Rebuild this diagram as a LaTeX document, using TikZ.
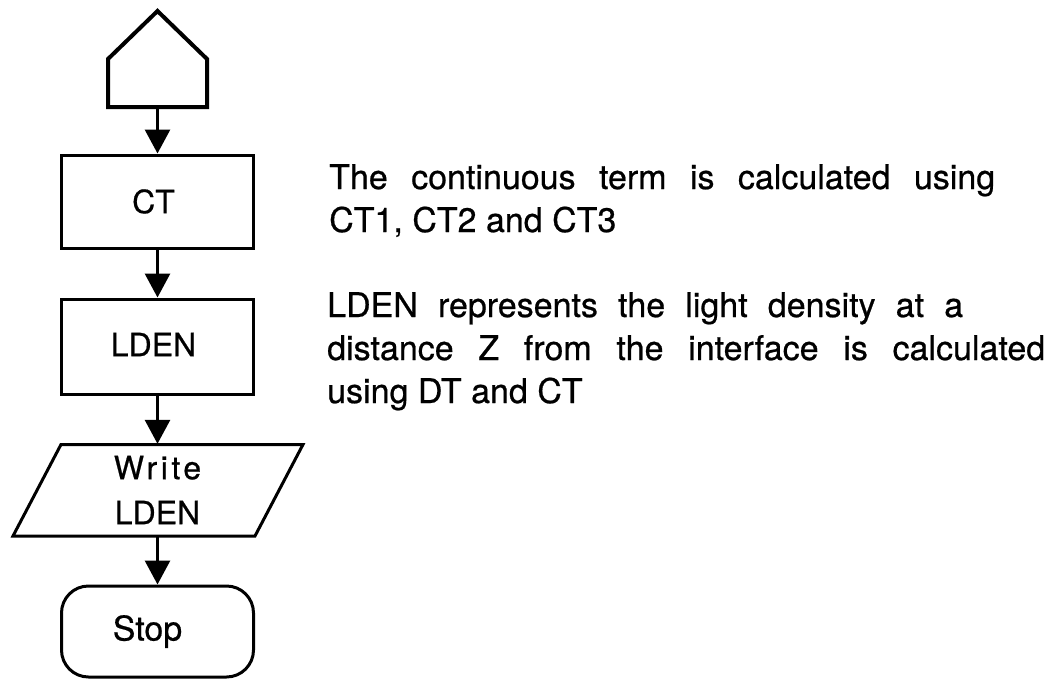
\documentclass[tikz,border=0pt]{standalone}
\usepackage{fontspec}
\setmainfont{TeX Gyre Heros}[FakeBold=0.6]
\usetikzlibrary{arrows.meta}
\newcommand\lblfont{\fontsize{32}{45}\selectfont}
\newcommand\txtfont{\fontsize{34}{43}\selectfont}
\begin{document}
\begin{tikzpicture}[x=1pt,y=-1pt,
  box/.style={draw,line width=3pt,minimum width=192pt,inner sep=0pt,font=\lblfont},
  flow/.style={line width=3pt,-{Triangle[length=24pt,width=25pt]}},
  para/.style={anchor=base west,inner sep=0pt,font=\txtfont}]
\useasboundingbox (0,0) rectangle (1058,681);

% start symbol (pentagon)
\draw[line width=4pt,line join=miter] (108,107) -- (108,59) -- (157.5,11) -- (207,59) -- (207,107) -- cycle;
\coordinate (start) at (157.5,107);

% process boxes
\node[box,minimum height=93pt,label={[font=\lblfont,xshift=-4pt]center:CT}] (ct) at (157.5,201.5) {};
\node[box,minimum height=95pt,label={[font=\lblfont,xshift=-4pt,yshift=2pt]center:LDEN}] (lden) at (157.5,346.5) {};

% output (parallelogram)
\node[minimum width=192pt,minimum height=92pt,align=center,font=\lblfont,inner sep=0pt] (write) at (157.5,490)
  {{\addfontfeature{LetterSpace=11}Write}\\LDEN};
\draw[line width=3pt,line join=miter] (13,536) -- (61,444.5) -- (303,444.5) -- (255,536) -- cycle;

% terminal
\node[box,rounded corners=27pt,minimum height=91pt,label={[font=\fontsize{34}{40}\selectfont,xshift=-10pt]center:Stop}] (stop) at (157.5,631.5) {};

% connectors
\draw[flow] (start) -- (ct.north);
\draw[flow] (ct.south) -- (lden.north);
\draw[flow] (lden.south) -- (write.north);
\draw[flow] (write.south) -- (stop.north);

% explanations
\node[para] (p1a) at (329,189) {\makebox[666pt][s]{The continuous term is calculated using}};
\node[para] (p1b) at (329,232) {CT1, CT2 and CT3};
\node[para] (p2a) at (327,317) {\makebox[636pt][s]{LDEN represents the light density at a}};
\node[para] (p2b) at (327,360) {\makebox[718pt][s]{distance Z from the interface is calculated}};
\node[para] (p2c) at (327,403) {using DT and CT};
\end{tikzpicture}
\end{document}
